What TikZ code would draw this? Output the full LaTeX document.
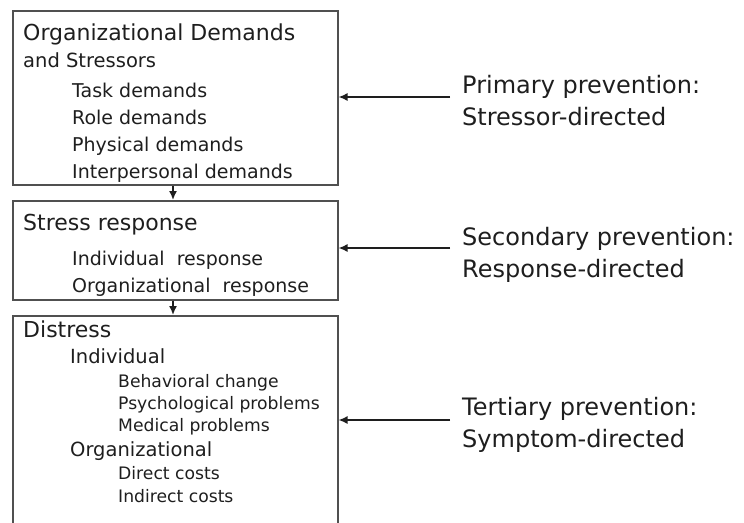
\documentclass[tikz,border=0pt]{standalone}
\usepackage{fontspec}
\setmainfont{DejaVu Sans}
\usetikzlibrary{arrows.meta}
\definecolor{edge}{HTML}{505050}
\definecolor{ink}{HTML}{1E1E1E}
\newcommand{\fs}[1]{\fontsize{#1}{#1}\selectfont}
\tikzset{
  stagebox/.style={draw=edge, line width=1.5pt, fill=none, inner sep=0pt,
    anchor=north west, minimum width=325pt},
  txt/.style={anchor=base west, inner sep=0pt, text=ink},
  head/.style={txt, font=\fs{22}},
  sub/.style={txt, font=\fs{19}},
  subsub/.style={txt, font=\fs{17.2}},
  side/.style={txt, font=\fs{24}, align=left},
  arr/.style={draw=ink, line width=1.6pt, -{Latex[length=9pt,width=8pt]}},
}
\begin{document}
\begin{tikzpicture}[x=1pt, y=-1pt]
\useasboundingbox (0,0) rectangle (744,522);
\clip (0,0) rectangle (744,522);

% three stages
\node[stagebox, minimum height=174pt] (b1) at (12,10) {};
\node[stagebox, minimum height=99pt]  (b2) at (12,200) {};
\node[stagebox, minimum height=230pt] (b3) at (12,315) {};

% stage 1 text
\node[head] (t1) at (23,40) {Organizational Demands};
\node[txt, font=\fs{19.5}] (t1a) at (23,67) {and Stressors};
\node[sub] (t1b) at (72,97)  {Task demands};
\node[sub] (t1c) at (72,124) {Role demands};
\node[sub] (t1d) at (72,151) {Physical demands};
\node[sub] (t1e) at (72,178) {Interpersonal demands};

% stage 2 text
\node[head] (t2) at (23,230) {Stress response};
\node[sub] (t2a) at (72,265) {Individual\ \ response};
\node[sub] (t2b) at (72,292) {Organizational\ \ response};

% stage 3 text
\node[head] (t3) at (23,337) {Distress};
\node[txt, font=\fs{19.5}] (t3a) at (70,363) {Individual};
\node[subsub] (t3b) at (118,387) {Behavioral change};
\node[subsub] (t3c) at (118,409) {Psychological problems};
\node[subsub] (t3d) at (118,431) {Medical problems};
\node[txt, font=\fs{19.5}] (t3e) at (70,456) {Organizational};
\node[subsub] (t3f) at (118,479) {Direct costs};
\node[subsub] (t3g) at (118,502) {Indirect costs};

% flow between stages
\draw[arr] (b1.south -| 173,0) -- (b2.north -| 173,0);
\draw[arr] (b2.south -| 173,0) -- (b3.north -| 173,0);

% prevention labels
\node[side] (p1) at (462,93)  {Primary prevention:};
\node[side] (p1b) at (462,125) {Stressor-directed};
\node[side] (p2) at (462,245) {Secondary prevention:};
\node[side] (p2b) at (462,277) {Response-directed};
\node[side] (p3) at (462,415) {Tertiary prevention:};
\node[side] (p3b) at (462,447) {Symptom-directed};

% prevention arrows
\coordinate (s1) at (450,97);
\coordinate (s2) at (450,248);
\coordinate (s3) at (450,420);
\draw[arr] (s1) -- (s1 -| b1.east);
\draw[arr] (s2) -- (s2 -| b2.east);
\draw[arr] (s3) -- (s3 -| b3.east);
\end{tikzpicture}
\end{document}
